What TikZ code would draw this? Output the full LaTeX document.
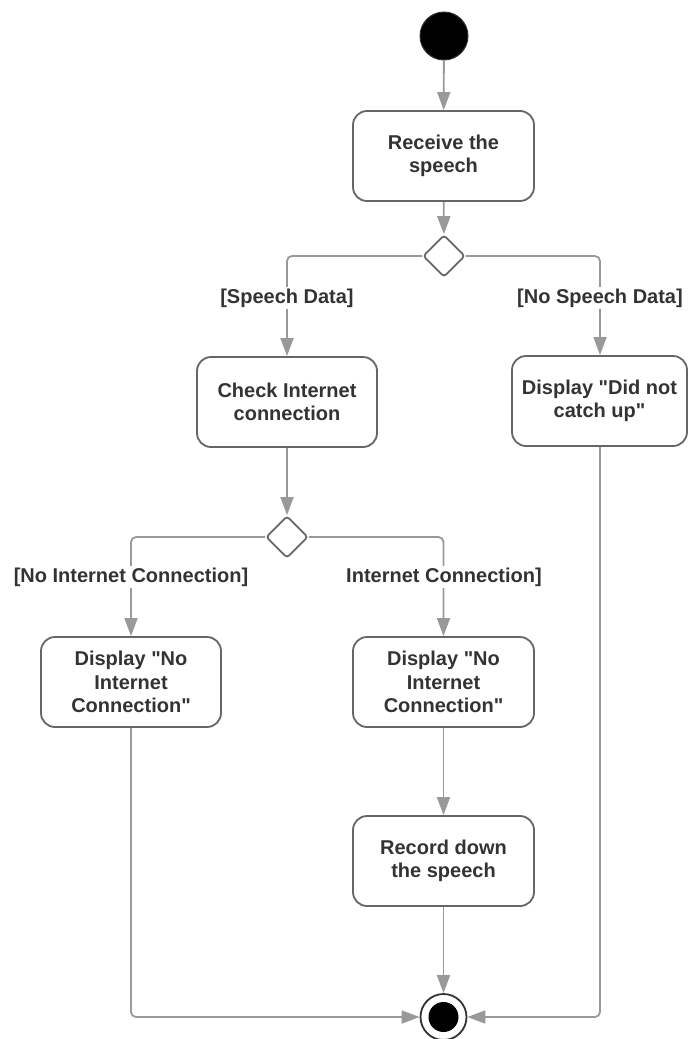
\documentclass[tikz,border=0pt]{standalone}
\usepackage{fontspec}
\setmainfont{Liberation Sans}[Ligatures=TeXOff]
\usetikzlibrary{arrows.meta,shapes.geometric}
\definecolor{edgegray}{HTML}{999999}
\definecolor{boxgray}{HTML}{666666}
\definecolor{inkgray}{HTML}{333333}
\tikzset{
  action/.style={draw=boxgray, line width=1.8pt, rounded corners=14pt, fill=white,
    minimum width=181pt, minimum height=90pt, align=center, text=inkgray,
    font=\bfseries\fontsize{20}{23.5}\selectfont, inner sep=0pt},
  choice/.style={diamond, draw=boxgray, line width=1.8pt, rounded corners=3pt, fill=white,
    minimum width=42pt, minimum height=42pt, inner sep=0pt},
  guard/.style={fill=white, text=inkgray, inner sep=2pt,
    font=\bfseries\fontsize{20}{23.5}\selectfont},
  flow/.style={draw=edgegray, line width=1.8pt, rounded corners=5pt,
    -{Triangle[length=18pt, width=13pt]}}
}
\begin{document}
\begin{tikzpicture}[x=1pt, y=-1pt]
\useasboundingbox (0,0) rectangle (688,1039);

% start and end markers
\node[circle, fill=black, draw=inkgray, line width=1pt, minimum size=48pt, inner sep=0pt] (start) at (444,36) {};
\node[circle, fill=white, draw=inkgray, line width=1.8pt, minimum size=46pt, inner sep=0pt] (finish) at (443.5,1017) {};
\node[circle, fill=black, minimum size=30pt, inner sep=0pt] (finishdot) at (443.5,1017) {};

% actions
\node[action] (receive) at (443.5,156) {Receive the\\speech};
\node[action, minimum width=180pt] (check) at (287,402) {Check Internet\\connection};
\node[action, minimum width=175pt] (nocatch) at (599.5,401) {Display "Did not\\catch up"};
\node[action, minimum width=180pt] (noconn) at (131,682) {Display "No\\Internet\\Connection"};
\node[action] (conn) at (443.5,682) {Display "No\\Internet\\Connection"};
\node[action] (record) at (443.5,861) {Record down\\the speech};

% decisions
\node[choice] (speechq) at (444,256) {};
\node[choice] (netq) at (287,537) {};

% flows
\draw[flow] (start) -- (receive);
\draw[flow] (receive) -- (speechq);
\draw[flow] (speechq.west) -| (check.north);
\draw[flow] (speechq.east) -| ([xshift=0.5pt]nocatch.north);
\draw[flow] (check) -- (netq);
\draw[flow] (netq.west) -| (noconn.north);
\draw[flow] (netq.east) -| (conn.north);
\draw[flow] (conn) -- (record);
\draw[flow] (record) -- (finish);
\draw[flow] (noconn.south) |- (finish.west);
\draw[flow] ([xshift=0.5pt]nocatch.south) |- (finish.east);

% guards
\node[guard] (g1) at (287,298) {[Speech Data]};
\node[guard] (g2) at (600,298) {[No Speech Data]};
\node[guard] (g3) at (131,577) {[No Internet Connection]};
\node[guard] (g4) at (444,577) {Internet Connection]};
\end{tikzpicture}
\end{document}
